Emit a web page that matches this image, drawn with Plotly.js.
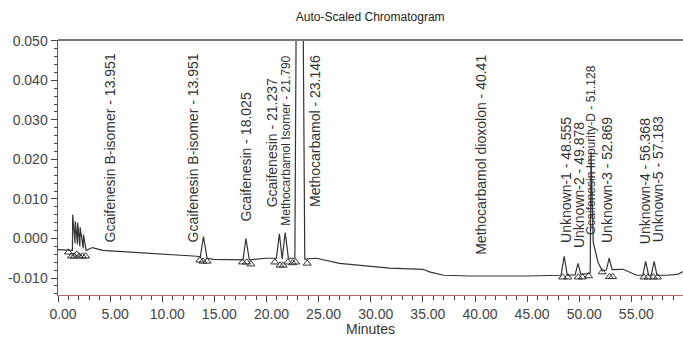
<!DOCTYPE html>
<html>
<head>
<meta charset="utf-8">
<script src="https://cdn.plot.ly/plotly-3.0.1.min.js"></script>
<style>
  html, body { margin: 0; padding: 0; background: #fff; }
  #chart { width: 683px; height: 337px; }
</style>
</head>
<body>
<div id="chart"></div>
<script>
// Detector trace: retention time (min) and absorbance (AU)
const timeMin = [
  0.00, 1.00, 1.38, 1.41, 1.63, 1.66, 1.87, 1.89, 2.10, 2.12,
  2.42, 2.44, 2.70, 3.30, 4.30, 13.30, 13.65, 13.951, 14.30, 14.90,
  17.40, 17.75, 18.025, 18.35, 20.00, 20.95, 21.237, 21.50, 21.79, 22.10,
  22.72, 23.146, 23.67, 24.80, 27.00, 29.90, 31.80, 35.00, 35.70, 37.00,
  39.50, 45.00, 48.25, 48.555, 48.85, 49.60, 49.878, 50.15, 51.05, 51.128,
  51.34, 51.80, 52.20, 52.60, 52.869, 53.15, 54.20, 55.50, 56.10, 56.368,
  56.65, 56.90, 57.183, 57.45, 58.50, 59.50, 60.00
];
const signalAU = [
  -0.0028, -0.0030, -0.0030, 0.0060, -0.0012, 0.0043, -0.0015, 0.0040, -0.0020, 0.0028,
  -0.0025, 0.0010, -0.0030, -0.0023, -0.0030, -0.0045, -0.0047, 0.0005, -0.0050, -0.0053,
  -0.0053, -0.0054, 0.0000, -0.0054, -0.0050, -0.0050, 0.0012, -0.0052, 0.0015, -0.0050,
  -0.0050, 0.2000, -0.0052, -0.0050, -0.0063, -0.0070, -0.0075, -0.0078, -0.0085, -0.0093,
  -0.0095, -0.0095, -0.0093, -0.0045, -0.0093, -0.0092, -0.0063, -0.0091, -0.0088, 0.0220,
  -0.0010, -0.0060, -0.0082, -0.0080, -0.0050, -0.0079, -0.0078, -0.0093, -0.0093, -0.0058,
  -0.0093, -0.0093, -0.0058, -0.0093, -0.0093, -0.0090, -0.0083
];

// Integration start/stop marks
const markTime = [
  1.00, 1.30, 1.55, 1.80, 2.05, 2.35, 2.65,
  13.60, 13.90, 14.30, 17.70, 18.10, 18.50,
  20.80, 21.30, 21.60, 22.05, 22.50, 22.80, 23.90,
  48.40, 48.90, 49.90, 50.30, 50.90, 52.20, 52.90, 53.20,
  56.20, 56.60, 57.10, 57.50
];
const markAU = [
  -0.0035, -0.0045, -0.0045, -0.0040, -0.0045, -0.0045, -0.0045,
  -0.0055, -0.0058, -0.0058, -0.0060, -0.0060, -0.0065,
  -0.0060, -0.0068, -0.0068, -0.0060, -0.0062, -0.0060, -0.0063,
  -0.0098, -0.0098, -0.0098, -0.0098, -0.0095, -0.0085, -0.0097, -0.0097,
  -0.0098, -0.0098, -0.0098, -0.0098
];

// Peak names and retention times
const peakNames = [
  'Gcaifenesin B-isomer', 'Gcaifenesin B-isomer', 'Gcaifenesin', 'Gcaifenesin',
  'Methocarbamol Isomer', 'Methocarbamol', 'Methocarbamol dioxolon',
  'Unknown-1', 'Unknown-2', 'Gcaifenesin Impurity-D', 'Unknown-3', 'Unknown-4', 'Unknown-5'
];
const peakRT = [
  '13.951', '13.951', '18.025', '21.237', '21.790', '23.146', '40.41',
  '48.555', '49.878', '51.128', '52.869', '56.368', '57.183'
];

// Axis tick labels
const yTickVals = [-0.01, 0, 0.01, 0.02, 0.03, 0.04, 0.05];
const yTickText = ['-0.010', '0.000', '0.010', '0.020', '0.030', '0.040', '0.050'];

// Where each peak label sits: [minutes, AU at the start of the text, font size]
const labelPlace = [
  [4.96, -0.0012, 14], [12.93, -0.0012, 14], [18.01, 0.0041, 14], [20.51, 0.0077, 14],
  [21.85, 0.0029, 12], [24.64, 0.0077, 14], [40.57, -0.0044, 14],
  [48.72, -0.0014, 14], [49.97, -0.0027, 14], [51.12, 0.0006, 12], [52.66, -0.0014, 14],
  [56.30, -0.0017, 14], [57.55, -0.0012, 14]
];

const FONT = 'Arial, "Liberation Sans", sans-serif';

const annotations = peakNames.map((name, i) => ({
  x: labelPlace[i][0],
  y: labelPlace[i][1],
  xref: 'x', yref: 'y',
  text: name + ' - ' + peakRT[i],
  textangle: -90,
  showarrow: false,
  xanchor: 'center',
  yanchor: 'bottom',
  borderpad: 0,
  font: { family: FONT, size: labelPlace[i][2], color: '#333' }
}));

const traces = [
  {
    x: timeMin, y: signalAU,
    type: 'scatter', mode: 'lines',
    line: { color: '#333', width: 1.2 },
    hoverinfo: 'skip'
  },
  {
    x: markTime, y: markAU,
    type: 'scatter', mode: 'markers',
    marker: { symbol: 'triangle-up-open', size: 7, color: '#333', line: { width: 1 } },
    hoverinfo: 'skip'
  }
];

const layout = {
  width: 683, height: 337,
  margin: { l: 58, r: 0, t: 40, b: 42 },
  paper_bgcolor: '#fff', plot_bgcolor: '#fff',
  showlegend: false,
  font: { family: FONT, color: '#444' },
  title: {
    text: 'Auto-Scaled Chromatogram',
    font: { family: FONT, size: 12, color: '#222' },
    xref: 'container', yref: 'container',
    x: 0.542, y: 0.95, xanchor: 'center', yanchor: 'middle'
  },
  xaxis: {
    range: [0, 59.95],
    tick0: 0, dtick: 5, tickformat: '.2f',
    ticks: 'outside', ticklen: 6, tickwidth: 1, tickcolor: '#444',
    minor: { tickmode: 'linear', tick0: 0, dtick: 1, ticks: 'outside', ticklen: 4, tickcolor: '#444', showgrid: false },
    showline: true, linecolor: '#b86a6a', linewidth: 1,
    showgrid: false, zeroline: false,
    tickfont: { family: FONT, size: 14, color: '#444' },
    ticklabelshift: 5,
    title: { text: 'Minutes', font: { family: FONT, size: 14, color: '#333' }, standoff: 0 }
  },
  yaxis: {
    range: [-0.0143, 0.0502],
    tickmode: 'array', tickvals: yTickVals, ticktext: yTickText,
    ticks: 'outside', ticklen: 6, tickwidth: 1, tickcolor: '#444',
    minor: { tickmode: 'linear', tick0: 0, dtick: 0.002, ticks: 'outside', ticklen: 3, tickcolor: '#444', showgrid: false },
    showline: true, linecolor: '#555', linewidth: 1.5,
    showgrid: false, zeroline: false,
    tickfont: { family: FONT, size: 14, color: '#444' }
  },
  shapes: [
    { type: 'line', xref: 'paper', yref: 'paper', x0: 0, x1: 1, y0: 1, y1: 1,
      line: { color: '#777', width: 2 } }
  ],
  annotations: annotations
};

Plotly.newPlot('chart', traces, layout, { displayModeBar: false, staticPlot: true });
</script>
</body>
</html>
